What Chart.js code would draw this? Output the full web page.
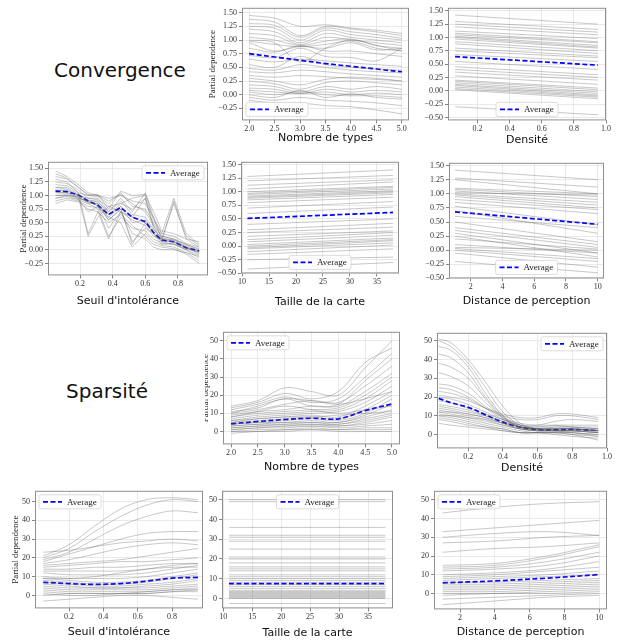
<!DOCTYPE html>
<html>
<head>
<meta charset="utf-8">
<script src="https://cdn.jsdelivr.net/npm/chart.js@4.4.0/dist/chart.umd.min.js"></script>
<style>
  body { margin: 0; background: #fff; }
  #page { position: relative; width: 617px; height: 643px; overflow: hidden; background: #fff; }
  .big { position: absolute; font-family: "DejaVu Sans", sans-serif; font-size: 20px; line-height: 20px; color: #111; white-space: nowrap; }
  canvas { position: absolute; }
</style>
</head>
<body>
<div id="page">
  <div class="big" style="left:54px;top:60px">Convergence</div>
  <div class="big" style="left:66px;top:381px">Sparsité</div>
</div>
<script>
// ---- tick labels ----
const convTicksA = [-0.25, 0, 0.25, 0.5, 0.75, 1.0, 1.25, 1.5];
const convTicksB = [-0.5, -0.25, 0, 0.25, 0.5, 0.75, 1.0, 1.25, 1.5];
const sparsTicks = [0, 10, 20, 30, 40, 50];
const typesTicks = [2.0, 2.5, 3.0, 3.5, 4.0, 4.5, 5.0];
const densTicks = [0.2, 0.4, 0.6, 0.8, 1.0];
const seuilTicks = [0.2, 0.4, 0.6, 0.8];
const tailleTicks = [10, 15, 20, 25, 30, 35];
const distTicks = [2, 4, 6, 8, 10];

// ---- Convergence / Nombre de types ----
const convTypesX = [2, 2.5, 3, 3.5, 4, 4.5, 5];
const convTypesAvg = [0.75, 0.69, 0.63, 0.57, 0.52, 0.47, 0.42];
const convTypesLines = [
  [1.45, 1.40, 1.25, 1.28, 1.22, 1.18, 1.12],
  [1.38, 1.33, 1.08, 1.25, 1.20, 1.15, 1.08],
  [1.30, 1.27, 1.05, 1.22, 1.15, 1.10, 1.03],
  [1.25, 1.22, 1.00, 1.18, 1.10, 1.05, 1.00],
  [1.20, 1.15, 0.95, 1.12, 1.05, 1.00, 0.95],
  [1.12, 1.08, 0.92, 1.05, 1.00, 0.95, 0.90],
  [1.05, 1.00, 0.90, 0.98, 1.02, 0.90, 0.85],
  [0.98, 0.92, 0.88, 0.92, 0.98, 0.85, 0.80],
  [0.95, 0.80, 0.88, 0.85, 0.95, 0.82, 0.85],
  [0.85, 0.78, 0.90, 0.80, 0.80, 0.75, 0.70],
  [0.72, 0.68, 0.85, 0.70, 0.68, 0.62, 0.85],
  [0.65, 0.60, 0.65, 0.62, 0.58, 0.55, 0.52],
  [0.55, 0.50, 0.70, 0.55, 0.50, 0.47, 0.45],
  [0.48, 0.45, 0.55, 0.50, 0.45, 0.42, 0.40],
  [0.42, 0.40, 0.45, 0.42, 0.38, 0.35, 0.32],
  [0.35, 0.32, 0.35, 0.33, 0.30, 0.28, 0.25],
  [0.30, 0.25, 0.18, 0.28, 0.32, 0.30, 0.25],
  [0.25, 0.20, 0.10, 0.22, 0.25, 0.22, 0.18],
  [0.18, 0.15, 0.05, 0.15, 0.10, 0.15, 0.10],
  [0.12, 0.10, 0.02, 0.10, 0.05, 0.08, 0.05],
  [0.08, 0.05, 0.02, 0.05, 0.00, 0.03, 0.00],
  [0.05, 0.00, 0.05, 0.00, -0.02, -0.02, -0.05],
  [0.00, -0.05, 0.08, -0.05, 0.02, -0.05, -0.08],
  [-0.05, -0.10, -0.05, -0.10, -0.12, -0.15, -0.20],
  [-0.10, -0.15, -0.15, -0.20, -0.22, -0.28, -0.35],
  [1.00, 0.95, 0.60, 0.85, 1.00, 0.90, 0.80]
];

// ---- Convergence / Densité ----
const convDensX = [0.06, 0.95];
const convDensAvg = [0.64, 0.48];
const convDensLines = [
  [1.42, 1.25], [1.30, 1.15], [1.25, 1.10], [1.20, 1.05], [1.12, 0.98],
  [1.08, 0.92], [1.05, 0.90], [1.02, 0.85], [1.00, 0.82], [0.97, 0.80],
  [0.92, 0.75], [0.88, 0.70], [0.80, 0.65], [0.75, 0.62], [0.68, 0.55],
  [0.55, 0.40], [0.45, 0.30], [0.40, 0.25], [0.35, 0.20], [0.28, 0.12],
  [0.20, 0.05], [0.18, 0.02], [0.15, -0.02], [0.12, -0.05], [0.10, -0.08],
  [0.07, -0.10], [0.04, -0.12], [0.02, -0.15], [-0.30, -0.45]
];

// ---- Convergence / Seuil d'intolérance ----
const convSeuilX = [0.05, 0.12, 0.19, 0.25, 0.31, 0.375, 0.45, 0.52, 0.6, 0.65, 0.7, 0.775, 0.85, 0.93];
const convSeuilAvg = [1.08, 1.07, 1.01, 0.90, 0.82, 0.65, 0.78, 0.60, 0.52, 0.32, 0.18, 0.15, 0.04, -0.02];
const convSeuilLines = [
  [1.45, 1.35, 1.20, 1.05, 1.00, 0.95, 1.00, 0.90, 0.85, 0.60, 0.30, 0.25, 0.12, 0.05],
  [1.35, 1.30, 1.15, 1.00, 0.98, 0.85, 1.05, 0.80, 0.75, 0.50, 0.25, 0.20, 0.10, 0.02],
  [1.25, 1.22, 1.10, 0.95, 0.95, 0.70, 0.95, 0.70, 1.05, 0.60, 0.20, 0.15, 0.05, -0.02],
  [1.20, 1.18, 1.05, 0.30, 0.70, 0.20, 0.70, 0.60, 0.95, 0.45, 0.15, 0.10, 0.02, -0.05],
  [1.15, 1.12, 1.00, 0.90, 0.90, 0.65, 0.85, 0.95, 1.00, 0.55, 0.30, 0.95, 0.30, 0.10],
  [1.10, 1.08, 1.00, 0.85, 0.85, 0.60, 0.80, 0.50, 0.55, 0.35, 0.15, 0.90, 0.20, 0.05],
  [1.05, 1.05, 0.95, 0.90, 0.80, 0.55, 0.75, 0.15, 0.40, 0.30, 0.10, 0.12, 0.00, -0.10],
  [1.00, 1.00, 0.98, 0.25, 0.60, 0.80, 0.70, 0.55, 0.45, 0.25, 0.20, 0.18, 0.05, -0.05],
  [0.95, 0.98, 0.92, 0.85, 0.75, 0.25, 0.60, 0.40, 0.35, 0.20, 0.12, 0.10, 0.00, -0.15],
  [0.90, 0.95, 0.90, 0.80, 0.78, 0.60, 0.50, 0.05, 0.30, 0.15, 0.08, 0.05, -0.05, -0.20],
  [0.85, 0.92, 0.88, 0.75, 0.70, 0.50, 0.65, 0.45, 0.25, 0.10, 0.05, 0.02, -0.08, -0.25],
  [1.30, 1.25, 1.05, 1.00, 1.02, 0.75, 1.08, 1.00, 1.02, 0.70, 0.35, 0.30, 0.20, 0.15],
  [1.10, 1.10, 1.00, 0.95, 0.92, 0.80, 0.85, 0.75, 0.95, 0.40, 0.20, 0.85, 0.25, 0.08],
  [1.00, 1.02, 0.95, 0.88, 0.85, 0.55, 0.75, 0.10, 0.50, 0.30, 0.15, 0.15, 0.05, -0.08],
  [1.15, 1.15, 1.02, 0.92, 0.88, 0.70, 0.90, 0.65, 0.60, 0.38, 0.22, 0.18, 0.08, -0.02],
  [0.95, 1.00, 0.93, 0.70, 0.80, 0.40, 0.70, 0.30, 0.20, 0.05, 0.00, 0.00, -0.05, -0.12],
  [1.05, 1.05, 0.97, 0.88, 0.82, 0.65, 0.80, 0.60, 0.50, 0.30, 0.18, 0.14, 0.03, -0.03],
  [1.40, 1.32, 1.15, 1.02, 1.00, 0.90, 1.02, 0.85, 0.70, 0.45, 0.25, 0.20, 0.10, 0.00]
];

// ---- Convergence / Taille de la carte ----
const convTailleX = [11, 38];
const convTailleAvg = [0.51, 0.62];
const convTailleLines = [
  [1.28, 1.40], [1.20, 1.30], [1.12, 1.22], [1.05, 1.18], [1.00, 1.10],
  [0.97, 1.08], [0.95, 1.05], [0.92, 1.02], [0.90, 1.00], [0.88, 0.98],
  [0.85, 0.95], [0.80, 0.90], [0.70, 0.82], [0.60, 0.72], [0.40, 0.50],
  [0.30, 0.42], [0.25, 0.35], [0.18, 0.28], [0.12, 0.25], [0.08, 0.20],
  [0.03, 0.15], [0.00, 0.12], [-0.03, 0.10], [-0.05, 0.06], [-0.10, 0.02],
  [-0.15, -0.05], [-0.25, -0.20], [-0.42, -0.30]
];

// ---- Convergence / Distance de perception ----
const convDistX = [1, 10];
const convDistAvg = [0.68, 0.46];
const convDistLines = [
  [1.42, 1.25], [1.28, 1.12], [1.25, 1.00], [1.10, 1.00], [1.08, 0.95],
  [1.05, 0.90], [1.02, 0.98], [1.00, 0.85], [0.98, 0.80], [0.95, 0.75],
  [0.90, 0.72], [0.85, 0.65], [0.78, 0.45], [0.70, 0.30], [0.60, 0.40],
  [0.50, 0.15], [0.40, 0.10], [0.35, 0.05], [0.30, -0.05], [0.25, -0.12],
  [0.20, 0.02], [0.10, -0.05], [0.05, 0.00], [0.03, -0.15], [0.00, -0.20],
  [-0.05, -0.30], [-0.20, -0.40]
];

// ---- Sparsité / Nombre de types ----
const sparsTypesX = [2, 2.5, 3, 3.5, 4, 4.5, 5];
const sparsTypesAvg = [4.2, 5.5, 6.6, 7.3, 7.0, 11.5, 15.2];
const sparsTypesLines = [
  [14, 17, 24, 22, 20, 35, 50],
  [13, 16, 21, 18, 22, 38, 46],
  [12, 15, 19, 16, 18, 30, 43],
  [11, 13, 18, 14, 15, 28, 40],
  [10, 12, 15, 17, 16, 25, 36],
  [9, 11, 12, 14, 14, 22, 32],
  [8, 10, 11, 12, 13, 20, 30],
  [7, 9, 10, 11, 12, 18, 28],
  [6, 8, 9, 10, 11, 16, 25],
  [6, 7, 8, 9, 8, 14, 22],
  [5, 6, 7, 8, 7, 12, 20],
  [4, 5, 6, 7, 6, 10, 18],
  [4, 5, 5, 6, 5, 9, 15],
  [3, 4, 5, 5, 5, 8, 12],
  [3, 4, 4, 5, 4, 7, 10],
  [2, 3, 4, 4, 4, 6, 9],
  [2, 3, 3, 4, 3, 5, 8],
  [1, 2, 3, 3, 3, 4, 6],
  [1, 2, 2, 3, 2, 3, 4],
  [0, 1, 1, 2, 1, 2, 2],
  [0, 0, 1, 1, 1, 1, 1],
  [-1, 0, 0, 1, 0, 0, 0],
  [10, 14, 18, 17, 15, 18, 22],
  [8, 11, 14, 12, 10, 12, 14],
  [5, 7, 8, 8, 9, 10, 11]
];

// ---- Sparsité / Densité ----
const sparsDensX = [0.03, 0.1, 0.2, 0.3, 0.4, 0.5, 0.6, 0.7, 0.8, 0.95];
const sparsDensAvg = [19.3, 17, 14.5, 10.5, 6.6, 3.9, 2.7, 2.5, 2.7, 2.1];
const sparsDensLines = [
  [51, 49, 40, 28, 15, 6, 3, 2, 2, 1],
  [50, 47, 38, 25, 12, 5, 3, 2, 2, 1],
  [47, 45, 36, 22, 10, 4, 2, 2, 2, 1],
  [43, 41, 33, 20, 10, 5, 3, 3, 3, 2],
  [38, 36, 30, 19, 9, 4, 3, 3, 3, 2],
  [33, 31, 26, 17, 9, 4, 3, 3, 3, 2],
  [27, 26, 22, 15, 9, 6, 5, 5, 4, 3],
  [25, 24, 20, 14, 8, 4, 3, 3, 3, 2],
  [23, 22, 19, 14, 10, 8, 8, 10, 10, 8],
  [21, 20, 18, 14, 11, 9, 9, 11, 11, 9],
  [20, 19, 16, 12, 8, 5, 5, 7, 8, 7],
  [18, 17, 14, 11, 8, 5, 4, 4, 4, 3],
  [16, 15, 13, 10, 7, 4, 3, 3, 3, 2],
  [15, 14, 12, 10, 7, 4, 3, 3, 3, 3],
  [14, 13, 11, 9, 6, 3, 2, 2, 2, 2],
  [13, 12, 10, 8, 5, 3, 2, 2, 2, 1],
  [12, 11, 9, 7, 5, 3, 2, 2, 1, 0],
  [11, 10, 8, 6, 4, 2, 1, 1, 0, -1],
  [10, 9, 7, 5, 3, 1, 1, 0, -1, -2],
  [9, 8, 6, 4, 3, 1, 1, 1, 0, -3],
  [8, 7, 5, 4, 2, 1, 1, 1, 1, -1],
  [6, 5, 4, 3, 2, 1, 1, 1, 1, 0],
  [12, 12, 11, 9, 6, 3, 3, 4, 4, 4],
  [10, 10, 9, 8, 6, 4, 4, 5, 5, 5]
];

// ---- Sparsité / Seuil d'intolérance ----
const sparsSeuilX = [0.05, 0.2, 0.35, 0.5, 0.65, 0.8, 0.95];
const sparsSeuilAvg = [7.0, 6.3, 5.9, 6.3, 7.6, 9.2, 9.6];
const sparsSeuilLines = [
  [21, 27, 37, 46, 51, 52, 51],
  [20, 25, 34, 42, 48, 51, 50],
  [19, 23, 30, 37, 42, 45, 44],
  [18, 22, 26, 30, 33, 34, 34],
  [23, 24, 26, 28, 29, 30, 29],
  [17, 19, 22, 25, 27, 28, 27],
  [16, 17, 18, 19, 21, 23, 25],
  [15, 16, 17, 18, 18, 19, 20],
  [14, 14, 15, 15, 16, 17, 17],
  [13, 13, 13, 13, 14, 15, 15],
  [12, 11, 11, 11, 12, 14, 16],
  [10, 9, 9, 9, 10, 12, 14],
  [9, 8, 7, 7, 8, 10, 12],
  [8, 7, 6, 6, 7, 9, 11],
  [7, 6, 5, 5, 6, 7, 9],
  [6, 5, 4, 4, 5, 6, 8],
  [5, 4, 4, 4, 4, 5, 6],
  [4, 3, 3, 3, 3, 4, 5],
  [3, 2, 2, 2, 2, 3, 4],
  [2, 1, 1, 1, 1, 2, 3],
  [1, 0, 0, 1, 1, 2, 2],
  [-3, -2, -1, 0, 0, -1, -2],
  [0, 1, 1, 1, 2, 3, 3],
  [9, 9, 10, 12, 14, 16, 17]
];

// ---- Sparsité / Taille de la carte ----
const sparsTailleX = [11, 38];
const sparsTailleAvg = [7.5, 7.5];
const sparsTailleLines = [
  [50, 50], [49, 49], [36, 36], [32, 32], [31, 31], [29, 29], [25, 25],
  [21, 21], [20, 20], [18, 18], [16, 16], [15, 15], [14, 14], [12, 12],
  [11, 11], [10, 10], [9, 9], [8, 8], [7, 7], [6, 6], [5, 5], [4, 4],
  [3.5, 3.5], [3, 3], [2.5, 2.5], [2, 2], [1.5, 1.5], [1, 1], [0.5, 0.5],
  [0, 0], [-2.5, -2.5]
];

// ---- Sparsité / Distance de perception ----
const sparsDistX = [1, 4, 7, 10];
const sparsDistAvg = [5.7, 6.7, 8.2, 10.1];
const sparsDistLines = [
  [43, 46, 48, 49], [33, 35, 37, 39], [30, 32, 33, 31], [27, 28, 30, 31],
  [22, 24, 25, 27], [15, 16, 20, 26], [14, 15, 19, 25], [13, 14, 17, 22],
  [12, 13, 15, 20], [10, 11, 13, 17], [9, 10, 12, 14], [8, 9, 10, 12],
  [7, 8, 9, 10], [6, 6, 7, 8], [5, 5, 6, 7], [4, 4, 5, 6], [3, 3, 4, 5],
  [2, 2, 3, 4], [1, 1, 2, 3], [0, 0, 1, 2], [-1, 0, 0, 1], [-3, -2, -1, 0],
  [-6, -4, -2, -1]
];

// ---- panel layout (frame = plot area in page pixels) ----
const panels = [
  { frame: [242, 7, 409, 120], x: [1.86, 5.14], y: [-0.47, 1.59], xTicks: typesTicks, xDec: 1, yTicks: convTicksA, yDec: 2,
    xTitle: 'Nombre de types', titleOff: 18, yTitle: true, yW: 35, legend: 'll', xs: convTypesX, lines: convTypesLines, avg: convTypesAvg, tension: 0.35 },
  { frame: [448, 7, 606, 120], x: [0.016, 1.0], y: [-0.556, 1.556], xTicks: densTicks, xDec: 1, yTicks: convTicksB, yDec: 2,
    xTitle: 'Densité', titleOff: 20, yTitle: false, yW: 30, legend: 'lc', xs: convDensX, lines: convDensLines, avg: convDensAvg, tension: 0 },
  { frame: [48, 161, 208, 275], x: [0.004, 0.984], y: [-0.47, 1.62], xTicks: seuilTicks, xDec: 1, yTicks: convTicksA, yDec: 2,
    xTitle: "Seuil d'intolérance", titleOff: 26, yTitle: true, yW: 30, legend: 'ur', xs: convSeuilX, lines: convSeuilLines, avg: convSeuilAvg, tension: 0 },
  { frame: [241, 161, 399, 273], x: [9.8, 39.1], y: [-0.5, 1.55], xTicks: tailleTicks, xDec: 0, yTicks: convTicksB, yDec: 2,
    xTitle: 'Taille de la carte', titleOff: 29, yTitle: false, yW: 30, legend: 'lc', xs: convTailleX, lines: convTailleLines, avg: convTailleAvg, tension: 0 },
  { frame: [449, 162, 604, 278], x: [0.62, 10.4], y: [-0.5, 1.55], xTicks: distTicks, xDec: 0, yTicks: convTicksB, yDec: 2,
    xTitle: 'Distance de perception', titleOff: 23, yTitle: false, yW: 30, legend: 'lc', xs: convDistX, lines: convDistLines, avg: convDistAvg, tension: 0 },
  { frame: [223, 331, 400, 444], x: [1.85, 5.15], y: [-7.1, 54.9], xTicks: typesTicks, xDec: 1, yTicks: sparsTicks, yDec: 0,
    xTitle: 'Nombre de types', titleOff: 23, yTitle: true, yW: 23, clip: 5, legend: 'ul', xs: sparsTypesX, lines: sparsTypesLines, avg: sparsTypesAvg, tension: 0.35 },
  { frame: [437, 332, 607, 448], x: [0.02, 1.0], y: [-7.4, 54.3], xTicks: densTicks, xDec: 1, yTicks: sparsTicks, yDec: 0,
    xTitle: 'Densité', titleOff: 20, yTitle: false, yW: 30, legend: 'ur', xs: sparsDensX, lines: sparsDensLines, avg: sparsDensAvg, tension: 0.35 },
  { frame: [35, 490, 203, 608], x: [0.002, 0.98], y: [-6.9, 55.7], xTicks: seuilTicks, xDec: 1, yTicks: sparsTicks, yDec: 0,
    xTitle: "Seuil d'intolérance", titleOff: 24, yTitle: true, yW: 25, legend: 'ul', xs: sparsSeuilX, lines: sparsSeuilLines, avg: sparsSeuilAvg, tension: 0.35 },
  { frame: [222, 490, 393, 608], x: [9.8, 39.3], y: [-5, 54.5], xTicks: tailleTicks, xDec: 0, yTicks: sparsTicks, yDec: 0,
    xTitle: 'Taille de la carte', titleOff: 25, yTitle: false, yW: 30, legend: 'uc', xs: sparsTailleX, lines: sparsTailleLines, avg: sparsTailleAvg, tension: 0 },
  { frame: [434, 490, 607, 609], x: [0.5, 10.45], y: [-8.5, 54.8], xTicks: distTicks, xDec: 0, yTicks: sparsTicks, yDec: 0,
    xTitle: 'Distance de perception', titleOff: 23, yTitle: false, yW: 30, legend: 'ul', xs: sparsDistX, lines: sparsDistLines, avg: sparsDistAvg, tension: 0.35 }
];

const tickFont = { family: '"Liberation Serif", "DejaVu Serif", serif', size: 8 };
const PAD_T = 6, PAD_R = 10;

function fmt(v, dec) {
  const s = Math.abs(v).toFixed(dec);
  return v < -1e-9 ? '\u2212' + s : s;
}

// frame around the plot area, like matplotlib spines
const framePlugin = {
  id: 'frame',
  afterDatasetsDraw(chart) {
    const a = chart.chartArea, ctx = chart.ctx;
    ctx.save();
    ctx.strokeStyle = '#8f8f8f';
    ctx.lineWidth = 1;
    ctx.strokeRect(a.left + 0.5, a.top + 0.5, a.right - a.left - 1, a.bottom - a.top - 1);
    ctx.restore();
  }
};

// legend box drawn inside the plot area
const legendPlugin = {
  id: 'avgLegend',
  afterDraw(chart, args, opts) {
    const a = chart.chartArea, ctx = chart.ctx;
    const w = 62, h = 14, m = 4;
    const pos = opts.pos;
    let x = pos[1] === 'l' ? a.left + m : pos[1] === 'r' ? a.right - m - w : (a.left + a.right - w) / 2;
    let y = pos[0] === 'u' ? a.top + m : a.bottom - m - h;
    const avgSet = chart.data.datasets[chart.data.datasets.length - 1];
    ctx.save();
    ctx.beginPath();
    ctx.roundRect(x, y, w, h, 2);
    ctx.fillStyle = 'rgba(255,255,255,0.85)';
    ctx.fill();
    ctx.strokeStyle = '#d4d4d4';
    ctx.lineWidth = 0.8;
    ctx.stroke();
    ctx.beginPath();
    ctx.setLineDash(avgSet.borderDash);
    ctx.strokeStyle = avgSet.borderColor;
    ctx.lineWidth = avgSet.borderWidth;
    ctx.moveTo(x + 4, y + h / 2);
    ctx.lineTo(x + 23, y + h / 2);
    ctx.stroke();
    ctx.setLineDash([]);
    ctx.fillStyle = '#222';
    ctx.font = '9px "Liberation Serif", "DejaVu Serif", serif';
    ctx.textBaseline = 'middle';
    ctx.fillText(avgSet.label, x + 28, y + h / 2 + 0.5);
    ctx.restore();
  }
};

function makePanel(p) {
  const [l, t, r, b] = p.frame;
  const xH = p.titleOff + 6.6;
  const W = (r - l) + p.yW + PAD_R;
  const H = (b - t) + PAD_T + xH;
  const canvas = document.createElement('canvas');
  canvas.width = Math.round(W);
  canvas.height = Math.round(H);
  canvas.style.left = (l - p.yW) + 'px';
  canvas.style.top = (t - PAD_T) + 'px';
  canvas.style.width = Math.round(W) + 'px';
  canvas.style.height = Math.round(H) + 'px';
  if (p.clip) canvas.style.clipPath = 'inset(0 0 0 ' + p.clip + 'px)';
  document.getElementById('page').appendChild(canvas);

  const datasets = p.lines.map((ys, i) => ({
    label: 'ice' + i,
    data: ys.map((v, j) => ({ x: p.xs[j], y: v })),
    borderColor: 'rgba(90,90,90,0.42)',
    borderWidth: 0.8,
    pointRadius: 0,
    tension: p.tension
  }));
  datasets.push({
    label: 'Average',
    data: p.avg.map((v, j) => ({ x: p.xs[j], y: v })),
    borderColor: '#0000ff',
    borderDash: [5, 2.5],
    borderWidth: 1.7,
    pointRadius: 0,
    tension: p.tension
  });

  new Chart(canvas, {
    type: 'line',
    data: { datasets: datasets },
    options: {
      responsive: false,
      animation: false,
      events: [],
      layout: { padding: { top: PAD_T, right: PAD_R, left: 0, bottom: 0 } },
      plugins: {
        legend: { display: false },
        tooltip: { enabled: false },
        avgLegend: { pos: p.legend }
      },
      scales: {
        x: {
          type: 'linear',
          min: p.x[0], max: p.x[1],
          afterBuildTicks: s => { s.ticks = p.xTicks.map(v => ({ value: v })); },
          afterFit: s => { s.height = xH; },
          ticks: { font: tickFont, color: '#333', padding: 1, maxRotation: 0, callback: v => fmt(v, p.xDec) },
          grid: { color: '#e3e3e3', lineWidth: 0.8, tickColor: '#666', tickLength: 3 },
          border: { display: false },
          title: {
            display: true, text: p.xTitle, color: '#111',
            font: { family: '"DejaVu Sans", sans-serif', size: 11 },
            padding: { top: 0, bottom: 0 }
          }
        },
        y: {
          type: 'linear',
          min: p.y[0], max: p.y[1],
          afterBuildTicks: s => { s.ticks = p.yTicks.map(v => ({ value: v })); },
          afterFit: s => { s.width = p.yW; },
          ticks: { font: tickFont, color: '#333', padding: 2, callback: v => fmt(v, p.yDec) },
          grid: { color: '#e3e3e3', lineWidth: 0.8, tickColor: '#666', tickLength: 3 },
          border: { display: false },
          title: {
            display: p.yTitle, text: 'Partial dependence', color: '#222',
            font: { family: '"Liberation Serif", "DejaVu Serif", serif', size: 9 },
            padding: { top: 0, bottom: 0 }
          }
        }
      }
    },
    plugins: [framePlugin, legendPlugin]
  });
}

panels.forEach(makePanel);
</script>
</body>
</html>
